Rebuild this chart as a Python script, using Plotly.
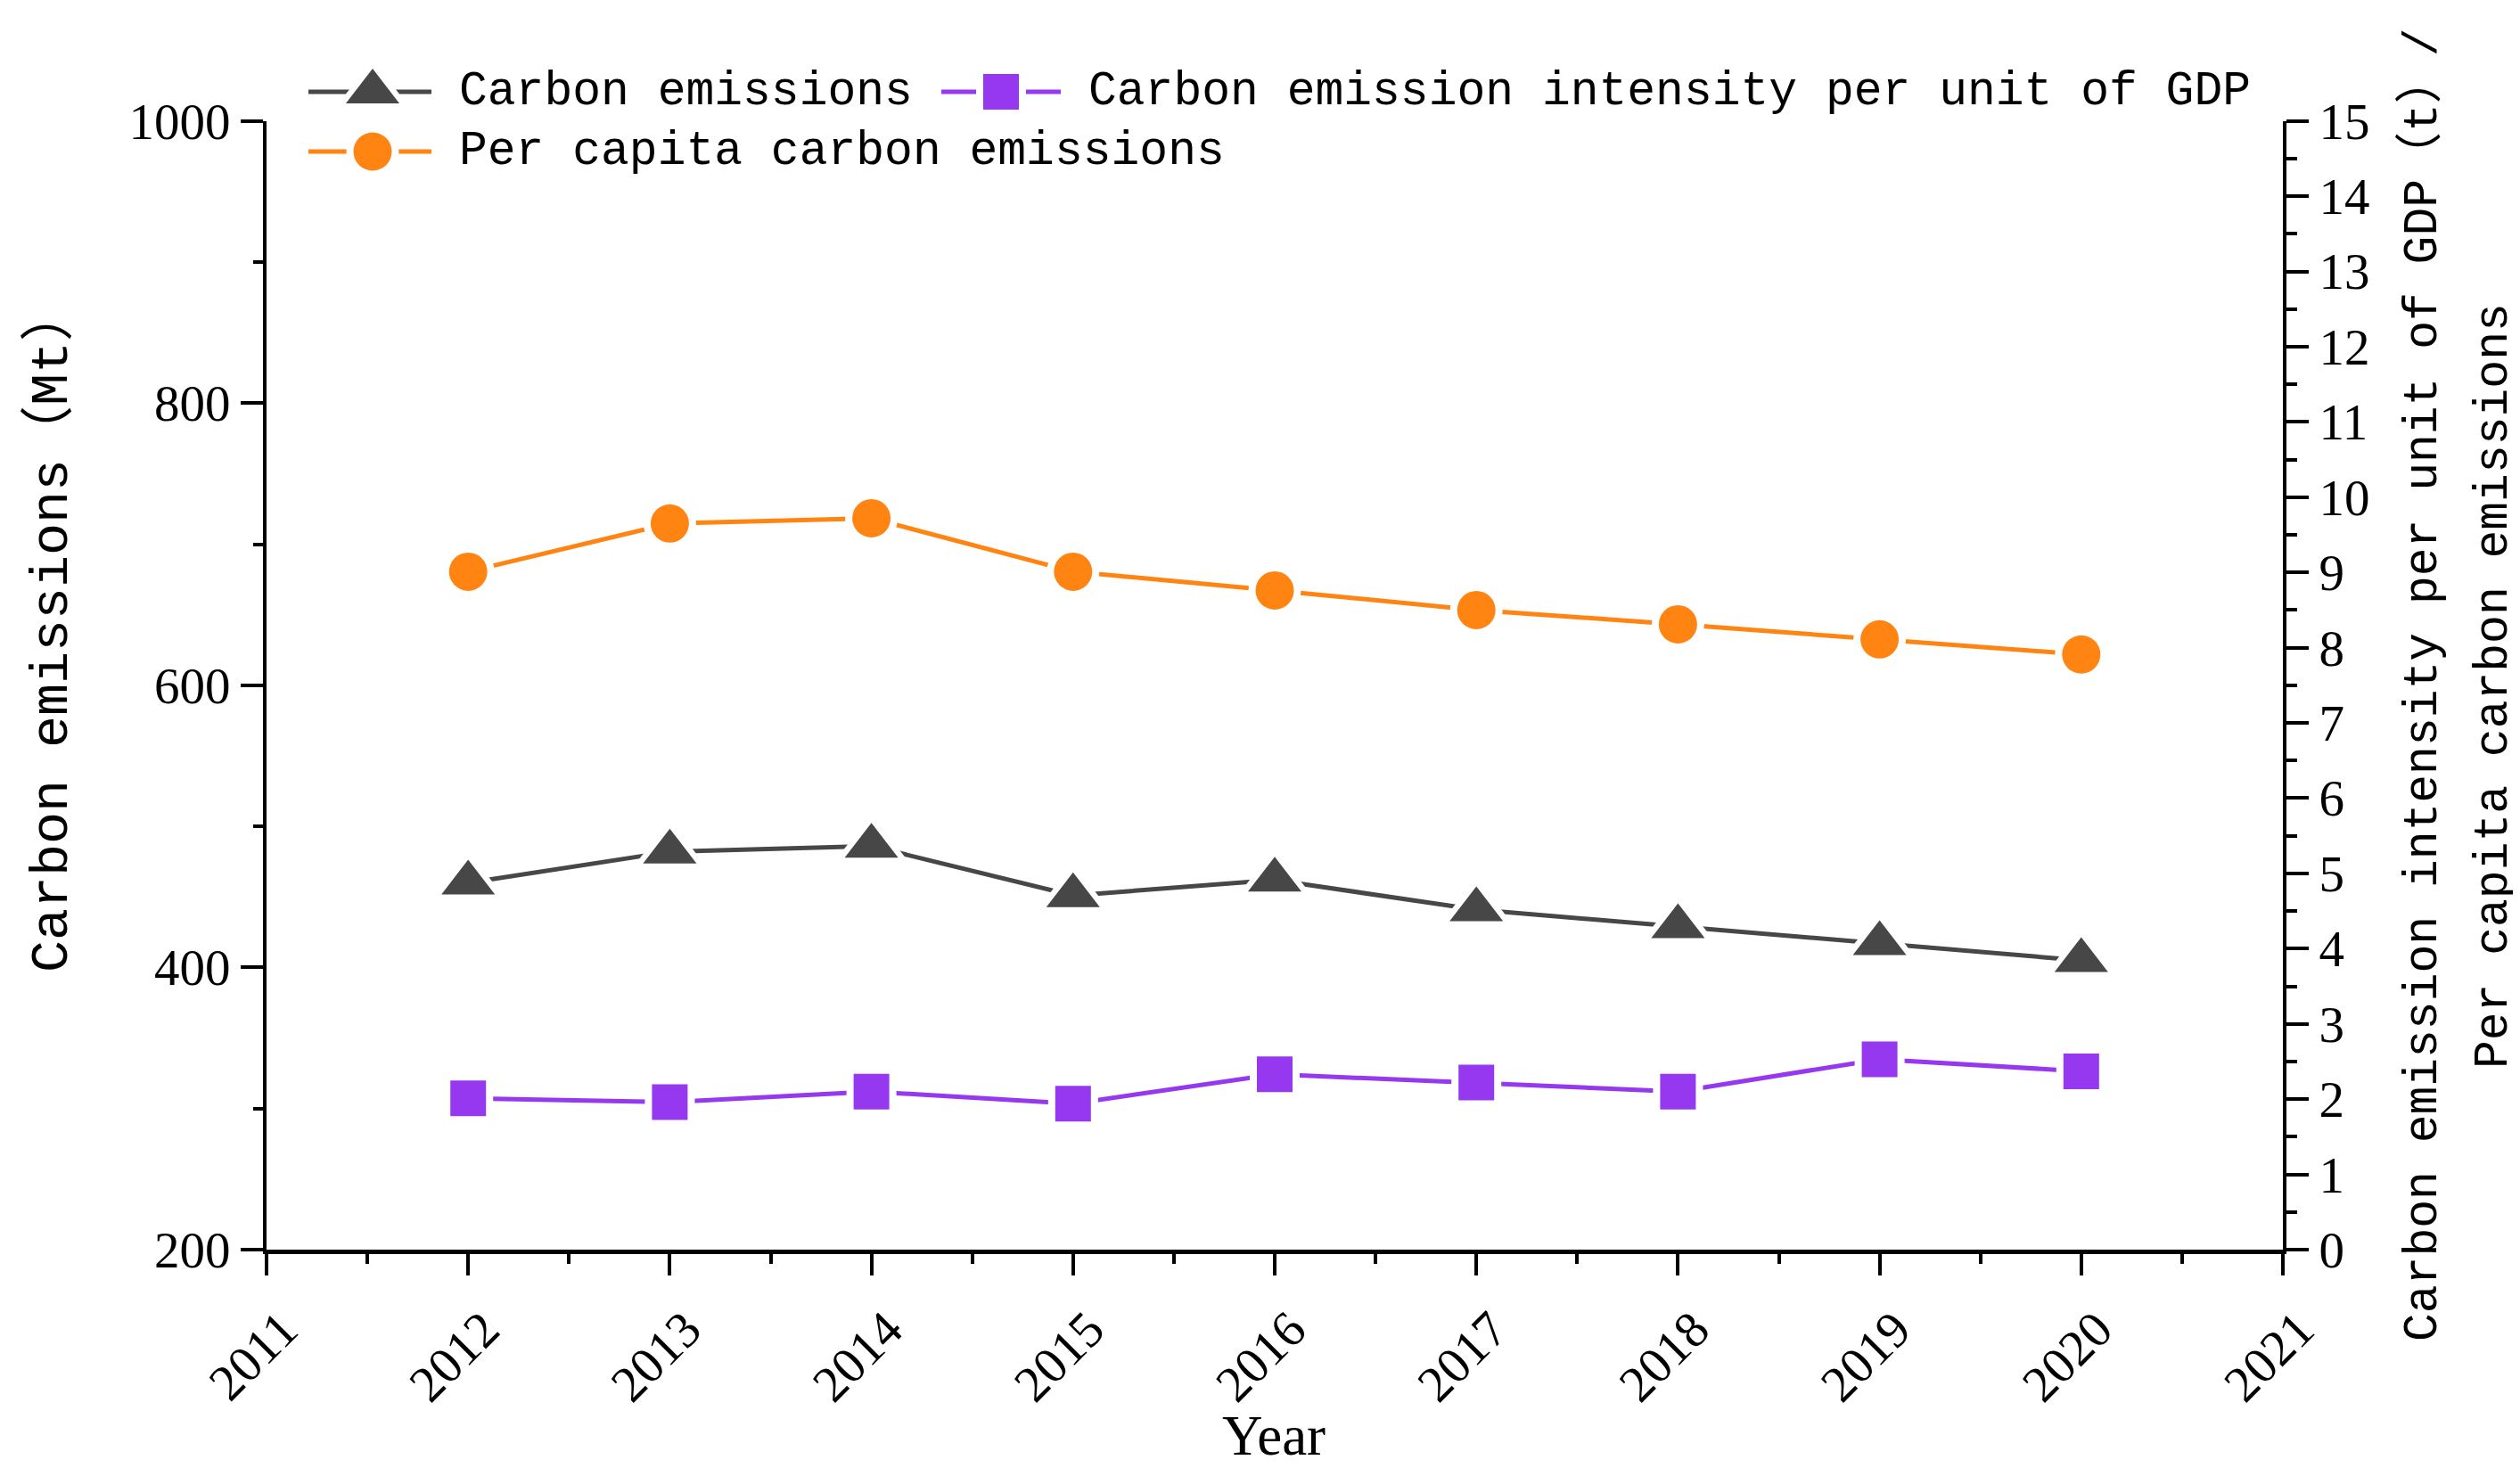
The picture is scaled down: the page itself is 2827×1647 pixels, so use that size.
import plotly.graph_objects as go

# ---------------- data ----------------
years = [2012, 2013, 2014, 2015, 2016, 2017, 2018, 2019, 2020]
carbon_emissions = [460, 482, 486, 451, 462, 441, 429, 417, 405]          # Mt (left axis)
intensity_per_gdp = [2.01, 1.96, 2.10, 1.94, 2.33, 2.22, 2.10, 2.53, 2.37]  # t (right axis)
per_capita = [9.01, 9.65, 9.72, 9.01, 8.76, 8.50, 8.31, 8.11, 7.91]       # t (right axis)

x_tick_vals = list(range(2011, 2022))
x_tick_text = [str(v) for v in x_tick_vals]
series_names = ["Carbon emissions",
                "Carbon emission intensity per unit of GDP",
                "Per capita carbon emissions"]
left_title = "Carbon emissions（Mt）"
right_title_1 = "Carbon emission intensity per unit of GDP（t）/"
right_title_2 = "Per capita carbon emissions"
x_title = "Year"

# ---------------- layout constants (pixels) ----------------
W, H = 2827, 1647
PL, PR, PT, PB = 291, 2553, 127.7, 1394

GRAY = "#474747"
PURPLE = "#9638F0"
ORANGE = "#FF8412"

MONO = "Liberation Mono, Noto Sans CJK SC, monospace"
SERIF = "Liberation Serif, serif"

styles = [
    dict(color=GRAY, symbol="triangle-up", size=52, halo=73, yaxis="y"),
    dict(color=PURPLE, symbol="square", size=40, halo=56, yaxis="y2"),
    dict(color=ORANGE, symbol="circle", size=43, halo=59, yaxis="y2"),
]
series_values = [carbon_emissions, intensity_per_gdp, per_capita]

fig = go.Figure()

for vals, st in zip(series_values, styles):
    fig.add_trace(go.Scatter(
        x=years, y=vals, yaxis=st["yaxis"], mode="lines+markers",
        line=dict(color=st["color"], width=5),
        marker=dict(symbol=st["symbol"], size=st["halo"], color="white", line=dict(width=0)),
        showlegend=False, hoverinfo="skip"))
    fig.add_trace(go.Scatter(
        x=years, y=vals, yaxis=st["yaxis"], mode="markers",
        marker=dict(symbol=st["symbol"], size=st["size"], color=st["color"], line=dict(width=0)),
        showlegend=False))

# ---------------- custom legend (pixel overlay axes) ----------------
legend_items = [
    # (line x0, line x1, marker x, text x, y)
    (338, 476, 410, 505, 95),
    (1048, 1182, 1115, 1211, 95),
    (338, 476, 410, 505, 162),
]
annotations = []
for (lx0, lx1, mx, tx, ly), st, name in zip(legend_items, styles, series_names):
    fig.add_trace(go.Scatter(
        x=[lx0, mx, lx1], y=[ly, ly, ly], xaxis="x3", yaxis="y3", mode="lines",
        line=dict(color=st["color"], width=5), showlegend=False, hoverinfo="skip"))
    fig.add_trace(go.Scatter(
        x=[mx], y=[ly], xaxis="x3", yaxis="y3", mode="markers",
        marker=dict(symbol=st["symbol"], size=st["halo"], color="white", line=dict(width=0)),
        showlegend=False, hoverinfo="skip"))
    fig.add_trace(go.Scatter(
        x=[mx], y=[ly], xaxis="x3", yaxis="y3", mode="markers",
        marker=dict(symbol=st["symbol"], size=st["size"], color=st["color"], line=dict(width=0)),
        showlegend=False, hoverinfo="skip"))
    annotations.append(dict(
        text=name, xref="paper", yref="paper", x=tx / W, y=1 - ly / H,
        xanchor="left", yanchor="middle", showarrow=False,
        font=dict(family=MONO, size=53, color="black")))

annotations += [
    dict(text=left_title, xref="paper", yref="paper", x=50 / W, y=1 - 699 / H,
         textangle=-90, xanchor="center", yanchor="middle", showarrow=False,
         font=dict(family=MONO, size=60, color="black")),
    dict(text=right_title_1, xref="paper", yref="paper", x=2710 / W, y=1 - 760 / H,
         textangle=-90, xanchor="center", yanchor="middle", showarrow=False,
         font=dict(family=MONO, size=53, color="black")),
    dict(text=right_title_2, xref="paper", yref="paper", x=2790 / W, y=1 - 762 / H,
         textangle=-90, xanchor="center", yanchor="middle", showarrow=False,
         font=dict(family=MONO, size=53, color="black")),
    dict(text=x_title, xref="paper", yref="paper", x=1421 / W, y=1 - 1603 / H,
         xanchor="center", yanchor="middle", showarrow=False,
         font=dict(family=SERIF, size=63, color="black")),
]

tickfont = dict(family=SERIF, size=57, color="black")
ydom = [1 - PB / H, 1 - PT / H]

fig.update_layout(
    width=W, height=H, autosize=False,
    margin=dict(l=0, r=0, t=0, b=0, pad=0),
    paper_bgcolor="white", plot_bgcolor="rgba(0,0,0,0)",
    showlegend=False,
    annotations=annotations,
    xaxis=dict(
        domain=[PL / W, PR / W], range=[2011, 2021], anchor="y",
        tickmode="array", tickvals=x_tick_vals, ticktext=x_tick_text, tickangle=-45,
        ticks="outside", ticklen=24, tickwidth=4, tickcolor="black",
        ticklabelshift=18, ticklabelstandoff=4,
        showline=True, linewidth=5, linecolor="black",
        showgrid=False, zeroline=False, tickfont=tickfont, automargin=False,
        minor=dict(ticks="outside", ticklen=11, tickwidth=4, tickcolor="black",
                   dtick=0.5, tick0=2011, showgrid=False),
    ),
    yaxis=dict(
        domain=ydom, range=[200, 1000], anchor="x",
        tickmode="linear", tick0=200, dtick=200,
        ticks="outside", ticklen=25, tickwidth=4, tickcolor="black",
        showline=True, linewidth=4, linecolor="black",
        showgrid=False, zeroline=False, tickfont=tickfont, automargin=False,
        minor=dict(ticks="outside", ticklen=11, tickwidth=4, tickcolor="black",
                   dtick=100, tick0=200, showgrid=False),
    ),
    yaxis2=dict(
        overlaying="y", side="right", anchor="x", range=[0, 15],
        tickmode="linear", tick0=0, dtick=1,
        ticks="outside", ticklen=25, tickwidth=4, tickcolor="black",
        showline=True, linewidth=4, linecolor="black",
        showgrid=False, zeroline=False, tickfont=tickfont, automargin=False,
        minor=dict(ticks="outside", ticklen=12, tickwidth=4, tickcolor="black",
                   dtick=0.5, tick0=0, showgrid=False),
    ),
    xaxis3=dict(domain=[0, 1], range=[0, W], anchor="y3", visible=False, fixedrange=True),
    yaxis3=dict(domain=[0, 1], range=[H, 0], anchor="x3", visible=False, fixedrange=True),
)

fig.write_html("out.html")
